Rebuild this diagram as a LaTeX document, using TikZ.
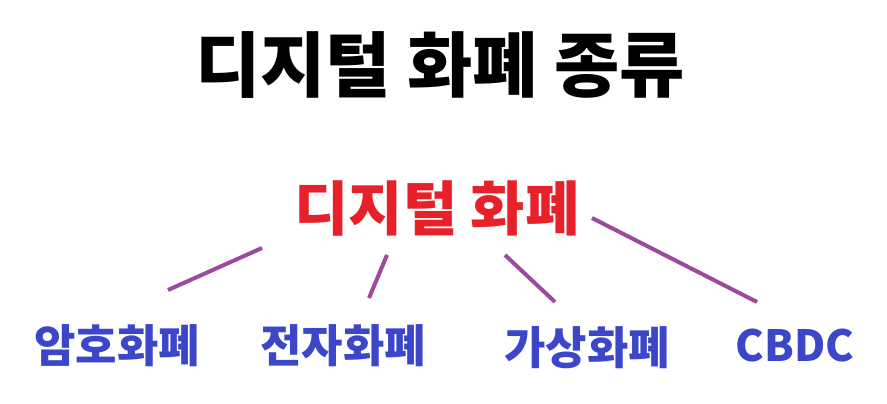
\documentclass[tikz,border=0pt]{standalone}
\usepackage{fontspec}
\newfontfamily\kr{Noto Sans CJK KR}
\definecolor{rd}{HTML}{E8202A}
\definecolor{bl}{HTML}{3C46C8}
\definecolor{pl}{HTML}{9B4A9E}
\begin{document}
\begin{tikzpicture}[x=1pt,y=-1pt,
  lbl/.style={font=\kr\bfseries\fontsize{45}{47}\selectfont, text=bl, inner sep=0},
  conn/.style={draw=pl, line width=4pt}]
\useasboundingbox (0,0) rectangle (887,404);
\node[inner sep=0, font=\kr\bfseries\fontsize{71}{73}\selectfont] (title) at (440,65) {디지털 화폐 종류};
\node[inner sep=0, text=rd, font=\kr\bfseries\fontsize{59}{61}\selectfont] (root) at (437,208) {디지털 화폐};
\node[lbl] (a) at (117,346) {암호화폐};
\node[lbl] (b) at (343,346) {전자화폐};
\node[lbl] (c) at (587,348) {가상화폐};
\node[lbl, font=\kr\bfseries\fontsize{43}{45}\selectfont] (d) at (795,346) {CBDC};
\coordinate (r1) at (262,248); \coordinate (a1) at (168,290);
\coordinate (r2) at (387,255); \coordinate (b1) at (369,298);
\coordinate (r3) at (505,255); \coordinate (c1) at (555,302);
\coordinate (r4) at (592,218); \coordinate (d1) at (757,302);
\draw[conn] (r1) -- (a1);
\draw[conn] (r2) -- (b1);
\draw[conn] (r3) -- (c1);
\draw[conn] (r4) -- (d1);
\end{tikzpicture}
\end{document}
